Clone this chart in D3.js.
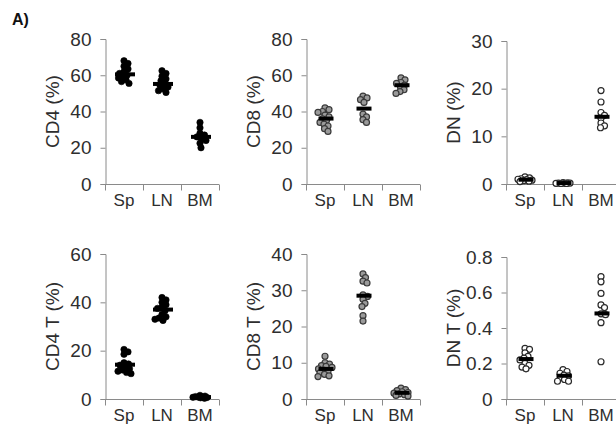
<!DOCTYPE html>
<html>
<head>
<meta charset="utf-8">
<script src="https://cdn.jsdelivr.net/npm/d3@7"></script>
<style>
  html, body { margin: 0; padding: 0; background: #fff; }
  svg { display: block; font-family: "Liberation Sans", Arial, sans-serif; }
</style>
</head>
<body>
<svg id="chart" width="616" height="430"></svg>
<script>
// Tissues on every x axis
const groups = ["Sp", "LN", "BM"];

// Percent of cells per mouse, one array per tissue (Sp, LN, BM)
const cd4 = [
  [68, 66.5, 65, 63.5, 62, 61, 60, 59.5, 58.5, 57.5, 56.5, 55.5],
  [62.5, 61, 59.5, 58, 57, 55.5, 54.5, 53.5, 52.5, 51.5, 50.5],
  [34, 31, 28, 27, 26, 25, 24, 22.5, 20]
];
const cd8 = [
  [42, 41, 40, 39.5, 38, 37, 36, 35, 34, 33, 32, 30.5, 29],
  [48.5, 47.5, 46.5, 45, 38.5, 37, 35.5, 34],
  [58.5, 57.5, 56, 55.5, 54.5, 53.5, 52, 51, 50]
];
const dn = [
  [1.5, 1.3, 1.1, 1.0, 0.9, 0.8, 0.7, 0.6, 0.5],
  [0.3, 0.25, 0.2, 0.2, 0.15, 0.15, 0.1, 0.1],
  [19.6, 17.2, 15.0, 14.4, 13.8, 12.8, 12.2, 11.8]
];
const cd4T = [
  [20.5, 19.5, 18.5, 15, 14.5, 14, 13.5, 12.5, 12, 11.5, 11, 10.5],
  [42, 41, 40, 39, 38, 37.5, 36.5, 35, 34, 33.5, 33, 32.5],
  [1.5, 1.2, 1.0, 0.9, 0.8, 0.7, 0.6, 0.5, 0.3]
];
const cd8T = [
  [11.8, 10, 9.6, 9.2, 9, 8.7, 8.3, 8, 7.6, 7.2, 6.8, 6.4, 6.2],
  [34.5, 33.5, 32.5, 32, 28.7, 28.3, 27.5, 26.4, 25.5, 23, 21.5],
  [3, 2.6, 2.3, 2, 1.8, 1.6, 1.4, 1.2, 1, 0.8]
];
const dnT = [
  [0.285, 0.28, 0.26, 0.24, 0.23, 0.22, 0.2, 0.19, 0.18, 0.17],
  [0.165, 0.155, 0.145, 0.135, 0.13, 0.12, 0.11, 0.1, 0.1],
  [0.69, 0.66, 0.595, 0.53, 0.515, 0.48, 0.475, 0.43, 0.21]
];

// Group centre lines (Sp, LN, BM)
const cd4Mid = [60.5, 55.2, 26];
const cd8Mid = [36.1, 41.6, 54.5];
const dnMid = [0.9, 0.2, 14.1];
const cd4TMid = [14.2, 37, 0.8];
const cd8TMid = [8.3, 28.5, 1.7];
const dnTMid = [0.225, 0.131, 0.482];

// Y tick labels per panel
const cd4Ticks = [0, 20, 40, 60, 80];
const cd8Ticks = [0, 20, 40, 60, 80];
const dnTicks = [0, 10, 20, 30];
const cd4TTicks = [0, 20, 40, 60];
const cd8TTicks = [0, 10, 20, 30, 40];
const dnTTicks = [0, 0.2, 0.4, 0.6, 0.8];

// Panel titles
const titles = ["CD4 (%)", "CD8 (%)", "DN (%)", "CD4 T (%)", "CD8 T (%)", "DN T (%)"];

// ---- layout & styles ----
const svg = d3.select("#chart");
const colX = [105, 306, 506];
const rowBottom = [184, 399];
const panelTop = [39, 39, 41, 254, 254, 257];
const plotW = 114;
const textColor = "#2e2e2e";
const axisColor = "#8a8a8a";

const styles = {
  solid: { fill: "#000", stroke: "#000", sw: 0.6, r: 3.2, barW: 20 },
  grey:  { fill: "#9a9a9a", stroke: "#3a3a3a", sw: 1.2, r: 3, barW: 15 },
  open:  { fill: "#fff", stroke: "#2a2a2a", sw: 1.2, r: 3, barW: 15 }
};

const panels = [
  { title: titles[0], data: cd4, mid: cd4Mid, ticks: cd4Ticks, style: "solid", fmt: d3.format("d") },
  { title: titles[1], data: cd8, mid: cd8Mid, ticks: cd8Ticks, style: "grey", fmt: d3.format("d") },
  { title: titles[2], data: dn, mid: dnMid, ticks: dnTicks, style: "open", fmt: d3.format("d") },
  { title: titles[3], data: cd4T, mid: cd4TMid, ticks: cd4TTicks, style: "solid", fmt: d3.format("d") },
  { title: titles[4], data: cd8T, mid: cd8TMid, ticks: cd8TTicks, style: "grey", fmt: d3.format("d") },
  { title: titles[5], data: dnT, mid: dnTMid, ticks: dnTTicks, style: "open", fmt: d => d === 0 ? "0" : d3.format(".1f")(d) }
];

// Compact beeswarm: nudge points sideways just enough to keep them readable
function dodge(values, y, minDist, maxOff) {
  const placed = [];
  const order = values.map((v, i) => i).sort((a, b) => values[b] - values[a]);
  const offs = new Array(values.length);
  for (const i of order) {
    const py = y(values[i]);
    let chosen = 0, bestScore = Infinity;
    for (let k = 0; k <= 40; k++) {
      const o = (k % 2 ? 1 : -1) * Math.ceil(k / 2) * 0.5;
      if (Math.abs(o) > maxOff) break;
      const nearest = placed.length ? d3.min(placed, p => Math.hypot(p.x - o, p.y - py)) : Infinity;
      if (nearest >= minDist) { chosen = o; bestScore = -1; break; }
      const score = minDist - nearest;
      if (score < bestScore) { bestScore = score; chosen = o; }
    }
    placed.push({ x: chosen, y: py });
    offs[i] = chosen;
  }
  return offs;
}

// Panel label
svg.append("text")
  .attr("x", 12).attr("y", 25)
  .attr("font-size", 16).attr("font-weight", "bold").attr("fill", "#111")
  .text("A)");

panels.forEach((p, idx) => {
  const row = Math.floor(idx / 3), col = idx % 3;
  const x0 = colX[col];
  const yB = rowBottom[row], yT = panelTop[idx];
  const st = styles[p.style];

  const y = d3.scaleLinear().domain([p.ticks[0], p.ticks[p.ticks.length - 1]]).range([yB, yT]);
  const x = d3.scaleBand().domain(groups).range([x0, x0 + plotW]);

  const g = svg.append("g");

  // Y axis
  const yAxis = d3.axisLeft(y).tickValues(p.ticks).tickFormat(p.fmt).tickSize(5).tickPadding(9);
  const ya = g.append("g").attr("transform", `translate(${x0 + 0.5},0)`).call(yAxis);
  ya.select(".domain").attr("stroke", axisColor);
  ya.selectAll(".tick line").attr("stroke", axisColor);
  ya.selectAll(".tick text").attr("font-size", 19).attr("fill", textColor)
    .attr("font-family", "Liberation Sans, Arial, sans-serif");

  // X axis: ticks sit on the boundaries between groups
  const xa = g.append("g").attr("transform", `translate(0,${yB + 0.5})`);
  xa.append("line").attr("x1", x0).attr("x2", x0 + plotW).attr("stroke", axisColor);
  const bounds = [x0, ...groups.map(d => x(d) + x.bandwidth())];
  xa.selectAll("line.tk").data(bounds).join("line").attr("class", "tk")
    .attr("x1", d => Math.round(d) + 0.5).attr("x2", d => Math.round(d) + 0.5)
    .attr("y1", 0).attr("y2", 6).attr("stroke", axisColor);
  xa.selectAll("text").data(groups).join("text")
    .attr("x", d => x(d) + x.bandwidth() / 2).attr("y", 21)
    .attr("text-anchor", "middle").attr("font-size", 17).attr("fill", textColor)
    .text(d => d);

  // Y title
  g.append("text")
    .attr("transform", `translate(${x0 - 46},${(yB + yT) / 2}) rotate(-90)`)
    .attr("text-anchor", "middle").attr("font-size", 19).attr("fill", textColor)
    .text(p.title);

  // Points
  groups.forEach((grp, gi) => {
    const vals = p.data[gi];
    const cx = x(grp) + x.bandwidth() / 2;
    const offs = dodge(vals, y, st.r * 1.45, 7);
    g.append("g").selectAll("circle").data(vals).join("circle")
      .attr("cx", (d, i) => cx + offs[i])
      .attr("cy", d => y(d))
      .attr("r", st.r)
      .attr("fill", st.fill).attr("stroke", st.stroke).attr("stroke-width", st.sw);
    // Centre line
    g.append("rect")
      .attr("x", cx - st.barW / 2 + 1).attr("y", y(p.mid[gi]) - 2)
      .attr("width", st.barW).attr("height", 4)
      .attr("fill", "#000");
  });
});
</script>
</body>
</html>
